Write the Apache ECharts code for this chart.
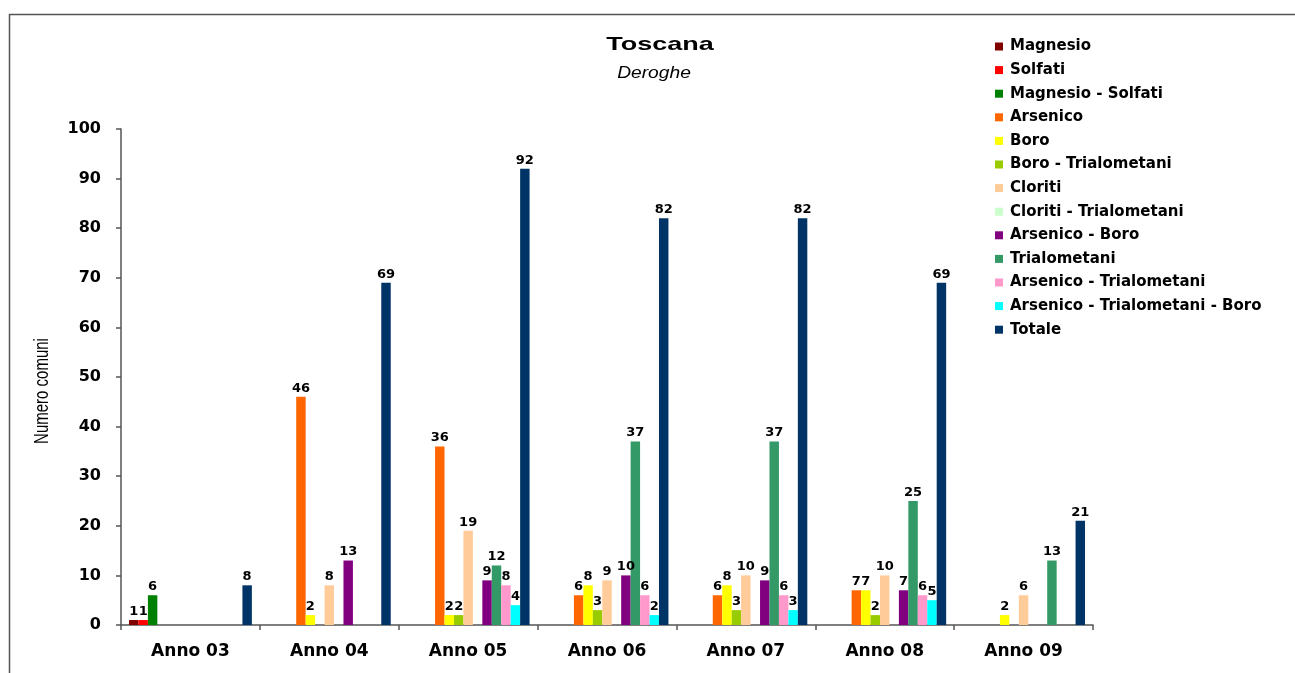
<!DOCTYPE html>
<html>
<head>
<meta charset="utf-8">
<script src="https://cdn.jsdelivr.net/npm/echarts@6/dist/echarts.min.js"></script>
<style>
  html, body { margin: 0; padding: 0; background: #fff; }
  #chart { width: 1295px; height: 673px; }
</style>
</head>
<body>
<div id="chart"></div>
<script>
// Years on the category axis
const categories = ['Anno 03', 'Anno 04', 'Anno 05', 'Anno 06', 'Anno 07', 'Anno 08', 'Anno 09'];

// Number of municipalities with a derogation, per parameter (null = none)
const magnesio           = [1, null, null, null, null, null, null];
const solfati            = [1, null, null, null, null, null, null];
const magnesioSolfati    = [6, null, null, null, null, null, null];
const arsenico           = [null, 46, 36, 6, 6, 7, null];
const boro               = [null, 2, 2, 8, 8, 7, 2];
const boroTrialometani   = [null, null, 2, 3, 3, 2, null];
const cloriti            = [null, 8, 19, 9, 10, 10, 6];
const clorotiTrialometani = [null, null, null, null, null, null, null];
const arsenicoBoro       = [null, 13, 9, 10, 9, 7, null];
const trialometani       = [null, null, 12, 37, 37, 25, 13];
const arsenicoTrialometani = [null, null, 8, 6, 6, 6, null];
const arsenicoTrialBoro  = [null, null, 4, 2, 3, 5, null];
const totale             = [8, 69, 92, 82, 82, 69, 21];

const yTicks = [0, 10, 20, 30, 40, 50, 60, 70, 80, 90, 100];

const seriesDefs = [
  ['Magnesio', magnesio, '#800000'],
  ['Solfati', solfati, '#FF0000'],
  ['Magnesio - Solfati', magnesioSolfati, '#008000'],
  ['Arsenico', arsenico, '#FF6600'],
  ['Boro', boro, '#FFFF00'],
  ['Boro - Trialometani', boroTrialometani, '#99CC00'],
  ['Cloriti', cloriti, '#FFCC99'],
  ['Cloriti - Trialometani', clorotiTrialometani, '#CCFFCC'],
  ['Arsenico - Boro', arsenicoBoro, '#800080'],
  ['Trialometani', trialometani, '#339966'],
  ['Arsenico - Trialometani', arsenicoTrialometani, '#FF99CC'],
  ['Arsenico - Trialometani - Boro', arsenicoTrialBoro, '#00FFFF'],
  ['Totale', totale, '#003366']
];

const FONT = '"Liberation Sans", Arial, sans-serif';
const WIDE = '"DejaVu Sans", Verdana, sans-serif';

const chart = echarts.init(document.getElementById('chart'), null, { renderer: 'canvas' });

chart.setOption({
  animation: false,
  backgroundColor: '#fff',
  textStyle: { fontFamily: FONT },
  legend: {
    orient: 'vertical',
    left: 990,
    top: 34,
    itemWidth: 8,
    itemHeight: 8,
    itemGap: 8.6,
    icon: 'rect',
    selectedMode: false,
    textStyle: { fontFamily: WIDE, fontSize: 15, fontWeight: 'bold', color: '#000', padding: [0, 0, 0, 2] },
    data: seriesDefs.map(d => d[0])
  },
  grid: { left: 121, right: 202, top: 129, bottom: 48, containLabel: false },
  xAxis: {
    type: 'category',
    data: categories,
    axisLine: { lineStyle: { color: '#555', width: 1.5 } },
    axisTick: { show: true, length: 5, lineStyle: { color: '#555', width: 1.5 } },
    axisLabel: { fontFamily: WIDE, fontSize: 17, fontWeight: 'bold', color: '#000', margin: 18 }
  },
  yAxis: {
    type: 'value',
    min: yTicks[0],
    max: yTicks[yTicks.length - 1],
    interval: 10,
    splitLine: { show: false },
    axisLine: { show: true, lineStyle: { color: '#555', width: 1.5 } },
    axisTick: { show: true, length: 5, lineStyle: { color: '#555', width: 1.5 } },
    axisLabel: { fontFamily: WIDE, fontSize: 16, fontWeight: 'bold', color: '#000', margin: 20 }
  },
  graphic: [
    {
      // outer frame
      type: 'rect',
      shape: { x: 9.5, y: 14.5, width: 1400, height: 800 },
      style: { fill: 'none', stroke: '#555', lineWidth: 1.5 },
      silent: true,
      z: 100
    },
    {
      // chart title, drawn wide
      type: 'text',
      x: 660, y: 45,
      scaleX: 1.42,
      style: { text: 'Toscana', font: 'bold 19px "Liberation Sans", Arial, sans-serif', fill: '#000', align: 'center', verticalAlign: 'middle' }
    },
    {
      type: 'text',
      x: 654, y: 74,
      scaleX: 1.2,
      style: { text: 'Deroghe', font: 'italic 16px "Liberation Sans", Arial, sans-serif', fill: '#000', align: 'center', verticalAlign: 'middle' }
    },
    {
      // value axis name
      type: 'text',
      x: 42, y: 391,
      rotation: Math.PI / 2,
      scaleY: 1.4,
      style: { text: 'Numero comuni', font: '15px "Liberation Sans", Arial, sans-serif', fill: '#000', align: 'center', verticalAlign: 'middle' }
    }
  ],
  series: seriesDefs.map(([name, values, color]) => ({
    name,
    type: 'bar',
    data: values,
    barGap: '0%',
    barCategoryGap: '11.5%',
    itemStyle: { color },
    label: {
      show: true,
      position: 'top',
      distance: 2,
      fontFamily: WIDE,
      fontSize: 13,
      fontWeight: 'bold',
      color: '#000'
    }
  }))
});
</script>
</body>
</html>
